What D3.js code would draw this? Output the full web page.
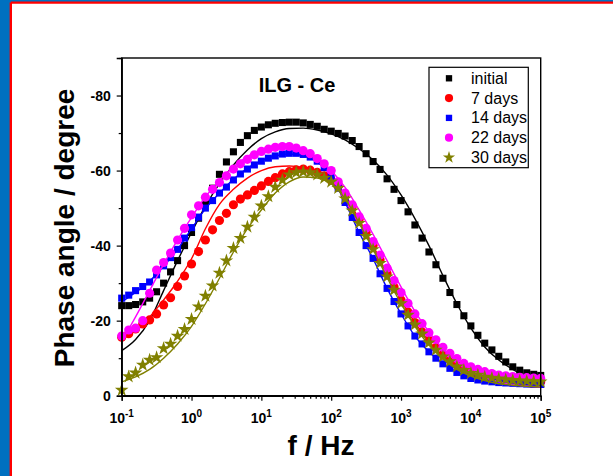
<!DOCTYPE html>
<html>
<head>
<meta charset="utf-8">
<script src="https://cdn.jsdelivr.net/npm/d3@7"></script>
<style>
  body { margin: 0; background: #fff; }
  svg { display: block; font-family: "Liberation Sans", Arial, sans-serif; }
</style>
</head>
<body>
<svg width="613" height="476"></svg>
<script>
// frequencies (Hz), 10 points per decade
var freq = [0.1,0.126,0.158,0.2,0.251,0.316,0.398,0.501,0.631,0.794,
  1,1.26,1.58,2,2.51,3.16,3.98,5.01,6.31,7.94,
  10,12.6,15.8,20,25.1,31.6,39.8,50.1,63.1,79.4,
  100,126,158,200,251,316,398,501,631,794,
  1000,1260,1580,2000,2510,3160,3980,5010,6310,7940,
  10000,12600,15800,20000,25100,31600,39800,50100,63100,79400,100000];

// measured phase angle magnitudes (degrees, plotted as negative)
var initial = [24,24,24.3,25,26,27.7,30,33,36,40, 43.5,47.3,51.3,55.3,59,62.3,65,67.5,69.3,70.7,
  71.6,72.2,72.6,72.8,72.9,72.9,72.7,72.3,71.8,71, 70.5,69.9,69.2,68,66.4,64.5,62.4,60.3,57.8,55,
  52,49,45.5,42,38.3,34.9,31.3,27.5,24.3,21.3, 18.6,16.1,14,12.2,10.5,9,7.7,6.8,6.1,5.7,5.4];
var days7 = [15.6,16.5,17.8,19.1,20.2,21.8,24.2,26.1,29.1,31.9, 35.1,38.4,41.5,44.2,46.7,48.6,50.9,52.4,53.5,54.7,
  55.9,57.1,58.1,59.1,59.7,60.2,60.4,60.1,59.5,58.6, 57.5,55.8,53.5,50.5,47,43.5,40,36.2,32.5,29,
  25.5,22.3,19.5,17,14.8,12.8,11,9.5,8.2,7.2, 6.4,5.8,5.3,4.9,4.6,4.4,4.2,4,3.9,3.8,3.7];
var days14 = [26,26.8,28,29.1,30.3,32.2,34.6,36.8,39,42, 44.8,47.6,50,52,54,55.6,57.5,59.1,60.4,61.5,
  62.5,63.3,63.9,64.4,64.6,64.6,64.3,63.6,62.5,60.8, 58.5,55.3,51.5,47.5,43.5,40,36.6,32.5,28.6,25.1,
  21.8,18.6,15.9,13.8,11.7,10,8.5,7.3,6.2,5.3, 4.6,4.2,3.9,3.7,3.5,3.4,3.3,3.2,3.1,3,3];
var days22 = [15.9,17.5,18,20,27.3,33.5,35.5,38,41.5,44.6, 48.2,50.6,52.9,55,56.8,58.6,60.4,61.8,63,64.2,
  65.1,65.7,66.2,66.4,66.4,66,65.3,64.5,63.2,61.8, 60,57,54,50.9,47.7,44.6,41.1,37.5,34,30.7,
  27.5,24.6,21.8,19.2,16.8,14.9,12.9,11.3,9.9,8.6, 7.7,7,6.4,5.9,5.5,5.3,5.1,4.9,4.8,4.7,4.6];
var days30 = [1.5,5.1,6.1,8.2,9.5,10.2,12.6,13.8,15.9,17.7, 20.4,23.7,26.6,29.3,32.7,36,39.3,42,45,47.6,
  50.6,53.1,55.6,57.5,58.9,59.5,59.7,59.5,58.9,58, 57,55.3,52.5,49.3,46,42.5,39,35.3,31.7,28.2,
  24.6,21.5,18.9,16.5,14.1,12.2,10.4,9.1,7.7,6.8, 6,5.5,5,4.7,4.5,4.3,4.1,4,3.9,3.8,3.7];

// fitted curves, 5 points per decade
var fitFreq = [0.1,0.158,0.251,0.398,0.631,1,1.58,2.51,3.98,6.31,10,15.8,25.1,39.8,63.1,
  100,158,251,398,631,1000,1580,2510,3980,6310,10000,15800,25100,39800,63100,100000];
var fitInitial = [12,15,20,28,36,43.5,50.5,56.5,61.5,65.5,68.5,70.3,71.2,71.3,70.8,
  69.8,68.2,65.8,62.8,58.8,53.5,47.2,40,32,24.5,18,13,9.5,7,5,3.7];
var fit7 = [15,17.5,21,25.5,30.5,36.5,44.5,51,55,58,60,61,61.2,60.8,59.5,
  57.5,53.5,47,40,32.5,25.5,19.5,14.5,10.5,7.5,5.5,4.2,3.4,2.9,2.5,2.3];
var fit14 = [25,27.5,30.5,34.5,39,44.5,49.8,54,57.7,60.6,62.6,63.9,64.4,64,62.3,
  58.5,51.5,43.5,36.5,28.6,21.8,15.9,11.7,8.5,6.2,4.6,3.8,3.3,3,2.8,2.6];
var fit22 = [14.5,21,28,35,41.5,47.5,53,57.3,61,63.8,65.5,66.3,66.4,65.6,63.5,
  60,55.5,49.5,43,36,29,22.5,17,12.5,9,6.5,4.8,3.7,3,2.6,2.3];
var fit30 = [3.7,5,7,10,13.8,18.5,24.5,31.3,38.3,44.5,49.5,54,57,58.3,58,
  56.5,52.5,46,39,31.5,24.5,18.5,13.5,9.8,7,5.2,4,3.2,2.8,2.5,2.3];

var seriesNames = ["initial", "7 days", "14 days", "22 days", "30 days"];
var seriesColors = ["#000000", "#ff0000", "#0000ff", "#ff00ff", "#808000"];
var seriesSymbols = [d3.symbolSquare, d3.symbolCircle, d3.symbolSquare, d3.symbolCircle, d3.symbolStar];
var seriesSizes = [50, 66, 50, 66, 58];
var seriesPoints = [initial, days7, days14, days22, days30];
var seriesFits = [fitInitial, fit7, fit14, fit22, fit30];

var yTicks = [0, 20, 40, 60, 80];
var yTickLabels = ["0", "-20", "-40", "-60", "-80"];
var xTickExp = [-1, 0, 1, 2, 3, 4, 5];

var svg = d3.select("svg");

// page frame
svg.append("rect").attr("x", 0).attr("y", 0).attr("width", 11).attr("height", 476).attr("fill", "#0070c0");
svg.append("rect").attr("x", 0).attr("y", 0).attr("width", 613).attr("height", 2).attr("fill", "#0070c0");
svg.append("line").attr("x1", 10.8).attr("x2", 10.8).attr("y1", 2.6).attr("y2", 476)
    .attr("stroke", "#ff0000").attr("stroke-width", 2.4);
svg.append("line").attr("x1", 10.8).attr("x2", 613).attr("y1", 2.6).attr("y2", 2.6)
    .attr("stroke", "#ff0000").attr("stroke-width", 2.4);

var x = d3.scaleLog().domain([0.1, 1e5]).range([121.7, 540.7]);
var y = d3.scaleLinear().domain([0, 90]).range([395.7, 58]);

var plot = svg.append("g");

// markers then fit line, per series
seriesPoints.forEach(function(vals, k) {
  var sym = d3.symbol().type(seriesSymbols[k]).size(seriesSizes[k]);
  plot.append("g").selectAll("path")
    .data(vals)
    .enter().append("path")
      .attr("d", sym)
      .attr("transform", function(d, i) { return "translate(" + x(freq[i]) + "," + y(d) + ")"; })
      .attr("fill", seriesColors[k]);

  var line = d3.line()
      .x(function(d, i) { return x(fitFreq[i]); })
      .y(function(d) { return y(d); })
      .curve(d3.curveMonotoneX);
  plot.append("path")
      .datum(seriesFits[k])
      .attr("d", line)
      .attr("fill", "none")
      .attr("stroke", seriesColors[k])
      .attr("stroke-width", 1.4);
});

// frame box
svg.append("rect")
    .attr("x", x.range()[0]).attr("y", y.range()[1])
    .attr("width", x.range()[1] - x.range()[0])
    .attr("height", y.range()[0] - y.range()[1])
    .attr("fill", "none").attr("stroke", "#000").attr("stroke-width", 1.4);

// x axis
var xMinor = [];
xTickExp.slice(0, -1).forEach(function(e) {
  for (var m = 2; m <= 9; m++) xMinor.push(m * Math.pow(10, e));
});
var gx = svg.append("g").attr("transform", "translate(0," + y.range()[0] + ")");
gx.append("g").call(d3.axisBottom(x).tickValues(xMinor).tickSize(3).tickFormat(""))
  .call(function(g) { g.select(".domain").remove(); });
gx.append("g").call(d3.axisBottom(x).tickValues(xTickExp.map(function(e) { return Math.pow(10, e); }))
    .tickSize(5).tickFormat(""))
  .call(function(g) { g.select(".domain").attr("stroke-width", 1.4); });
gx.selectAll(".tick line").attr("stroke-width", 1.2);

var xl = gx.append("g").selectAll("text")
  .data(xTickExp)
  .enter().append("text")
    .attr("x", function(e) { return x(Math.pow(10, e)); })
    .attr("y", 27)
    .attr("text-anchor", "middle")
    .attr("font-size", 14)
    .attr("font-weight", "bold");
xl.append("tspan").text("10");
xl.append("tspan").attr("dy", -6).attr("font-size", 10).text(function(e) { return e; });

// y axis
var yMinor = [10, 30, 50, 70, 90];
var gy = svg.append("g").attr("transform", "translate(" + x.range()[0] + ",0)");
gy.append("g").call(d3.axisLeft(y).tickValues(yMinor).tickSize(3).tickFormat(""))
  .call(function(g) { g.select(".domain").remove(); });
gy.append("g").call(d3.axisLeft(y).tickValues(yTicks).tickSize(5).tickPadding(6)
    .tickFormat(function(d, i) { return yTickLabels[i]; }))
  .call(function(g) { g.select(".domain").attr("stroke-width", 1.4); })
  .selectAll("text")
    .attr("font-size", 14).attr("font-weight", "bold")
    .attr("font-family", "Liberation Sans, Arial, sans-serif")
    .attr("fill", "#000");
gy.selectAll(".tick line").attr("stroke-width", 1.2);

// titles
svg.append("text")
    .attr("x", 321).attr("y", 455)
    .attr("text-anchor", "middle")
    .attr("font-size", 28).attr("font-weight", "bold")
    .text("f / Hz");
svg.append("text")
    .attr("transform", "translate(74,228) rotate(-90)")
    .attr("text-anchor", "middle")
    .attr("font-size", 28).attr("font-weight", "bold")
    .text("Phase angle / degree");
svg.append("text")
    .attr("x", 297).attr("y", 92)
    .attr("text-anchor", "middle")
    .attr("font-size", 20).attr("font-weight", "bold")
    .text("ILG - Ce");

// legend
var legend = svg.append("g");
legend.append("rect")
    .attr("x", 429).attr("y", 67.3).attr("width", 99.3).attr("height", 100.4)
    .attr("fill", "#fff").attr("stroke", "#000").attr("stroke-width", 1.2);
seriesNames.forEach(function(name, k) {
  var cy = 78.3 + k * 19.8;
  legend.append("path")
      .attr("d", d3.symbol().type(seriesSymbols[k]).size(seriesSizes[k] * 0.8)())
      .attr("transform", "translate(449," + cy + ")")
      .attr("fill", seriesColors[k]);
  legend.append("text")
      .attr("x", 471).attr("y", cy + 5.5)
      .attr("font-size", 16)
      .text(name);
});
</script>
</body>
</html>
